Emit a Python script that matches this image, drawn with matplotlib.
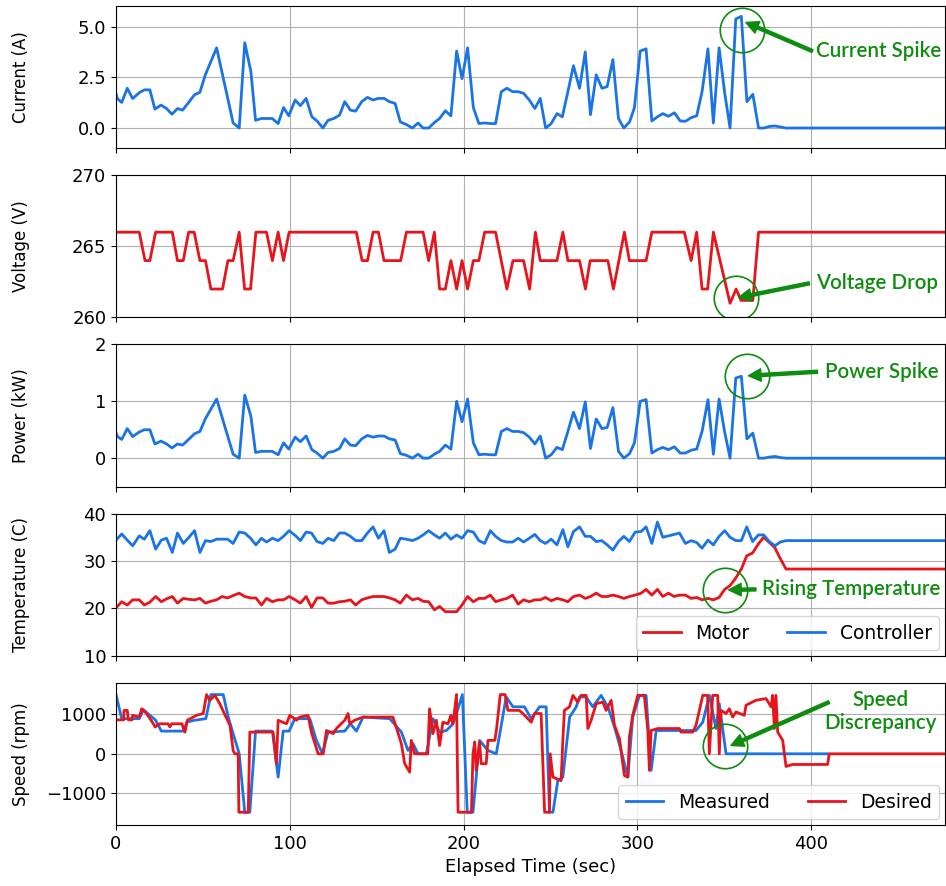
import numpy as np
import matplotlib
matplotlib.use("Agg")
import matplotlib.pyplot as plt

# ---------------------------------------------------------------
# Data
# ---------------------------------------------------------------

# electrical samples (current / power)
elec_t = [0, 0.8, 3.3, 6.5, 9.6, 13.4, 16.3, 19.5, 22.4, 25.9,
          29.1, 32.2, 35.4, 38.3, 41.8, 45.2, 48.3, 51.4, 57.9, 67.4,
          70.9, 74.1, 77.6, 80.3, 83.7, 89.9, 93.3, 96.4, 99.4, 103.1,
          106.1, 109.4, 112.7, 115.7, 119, 122, 125.3, 128.6, 131.6, 134.9,
          137.9, 141.4, 144.7, 147.9, 151, 154.2, 157.3, 160.6, 163.6, 167.1,
          170.5, 173.8, 176.7, 179.9, 183.2, 186.2, 189.5, 192.7, 196, 199.1,
          202.3, 205.6, 208.8, 212.1, 215.4, 218.4, 221.7, 224.9, 228.2, 231.4,
          234.5, 237.8, 241, 244.1, 247.2, 250.4, 253.7, 256.8, 260, 263.2,
          266.7, 270, 273, 276.3, 279.6, 282.6, 285.9, 289.1, 292.2, 295.5,
          298.3, 301.6, 305, 308.3, 311.5, 314.6, 317.8, 321.3, 324.6, 327.6,
          330.9, 334.1, 337.2, 340.6, 343.7, 347, 350.2, 353.3, 356.6, 359.8,
          363, 366.4, 369.7, 372.8, 376, 379.3, 382.3, 385.6, 477]

current = [1.7, 1.45, 1.26, 1.96, 1.45, 1.74, 1.88, 1.88, 0.93, 1.13,
           0.96, 0.68, 0.96, 0.88, 1.26, 1.64, 1.76, 2.62, 3.95, 0.25,
           0.0, 4.2, 2.79, 0.38, 0.47, 0.47, 0.22, 1.01, 0.6, 1.38,
           1.1, 1.46, 0.55, 0.35, 0.0, 0.38, 0.47, 0.63, 1.3, 0.88,
           0.83, 1.3, 1.51, 1.38, 1.46, 1.46, 1.3, 1.21, 0.3, 0.17,
           0.0, 0.25, 0.0, 0.0, 0.27, 0.47, 0.85, 0.6, 3.79, 2.43,
           3.95, 1.01, 0.22, 0.25, 0.22, 0.22, 1.79, 1.96, 1.79, 1.79,
           1.71, 1.38, 0.96, 1.46, 0.0, 0.22, 0.71, 0.55, 1.79, 3.07,
           1.96, 3.75, 0.66, 2.62, 1.96, 2.04, 3.37, 0.47, 0.0, 0.3,
           1.01, 3.79, 3.9, 0.35, 0.55, 0.71, 0.58, 0.75, 0.35, 0.33,
           0.51, 0.6, 1.79, 3.9, 0.25, 3.95, 1.74, 0.0, 5.37, 5.5,
           1.3, 1.66, 0.0, 0.0, 0.08, 0.1, 0.05, 0.0, 0.0]

power = [0.45, 0.38, 0.33, 0.52, 0.38, 0.46, 0.50, 0.50, 0.25, 0.30,
         0.25, 0.18, 0.25, 0.23, 0.33, 0.43, 0.47, 0.69, 1.04, 0.07,
         0.0, 1.11, 0.74, 0.10, 0.12, 0.12, 0.06, 0.27, 0.16, 0.37,
         0.29, 0.39, 0.15, 0.09, 0.0, 0.10, 0.12, 0.17, 0.34, 0.23,
         0.22, 0.34, 0.40, 0.37, 0.39, 0.39, 0.34, 0.32, 0.08, 0.05,
         0.0, 0.07, 0.0, 0.0, 0.07, 0.12, 0.23, 0.16, 1.0, 0.64,
         1.04, 0.27, 0.06, 0.07, 0.06, 0.06, 0.47, 0.52, 0.47, 0.47,
         0.45, 0.37, 0.25, 0.39, 0.0, 0.06, 0.19, 0.15, 0.47, 0.81,
         0.52, 0.99, 0.17, 0.69, 0.52, 0.54, 0.89, 0.12, 0.0, 0.08,
         0.27, 1.0, 1.03, 0.09, 0.15, 0.19, 0.15, 0.20, 0.09, 0.09,
         0.14, 0.16, 0.47, 1.03, 0.07, 1.04, 0.46, 0.0, 1.41, 1.44,
         0.34, 0.44, 0.0, 0.0, 0.02, 0.03, 0.01, 0.0, 0.0]

volt_t = [0, 13.4, 16.7, 19.5, 22.8, 32.4, 35.4, 38.7, 41.8, 45,
          48.3, 51.5, 54.6, 61.3, 64.4, 67.4, 70.9, 74, 77.4, 80.5,
          86.6, 90, 93.3, 96.4, 99.6, 138.3, 141.6, 144.7, 147.9, 151,
          154.2, 163.8, 167.1, 176.7, 179.9, 183.2, 186.2, 189.5, 192.7, 196,
          199.1, 202.3, 205.6, 208.8, 212.1, 218.4, 224.9, 228.4, 234.5, 238,
          241.3, 244.1, 253.7, 257.1, 260, 266.7, 270.1, 272.8, 283, 286.2,
          292.5, 295.4, 305, 308.3, 327, 330.9, 334.1, 337.2, 340.4, 343.7,
          353.3, 356.8, 359.6, 366.4, 369.7, 477]
voltage = [266, 266, 264, 264, 266, 266, 264, 264, 266, 266,
           264, 264, 262, 262, 264, 264, 266, 262, 262, 266,
           266, 264, 266, 264, 266, 266, 264, 264, 266, 266,
           264, 264, 266, 266, 264, 266, 262, 262, 264, 262,
           264, 262, 264, 264, 266, 266, 262, 264, 264, 262,
           266, 264, 264, 266, 264, 264, 262, 264, 264, 262,
           266, 264, 264, 266, 266, 264, 266, 262, 262, 266,
           261, 262, 261.2, 261.2, 266, 266]

temp_t = [0, 3.3, 6.5, 9.6, 13.4, 16.3, 19.5, 22.8, 26.1, 29.1,
          32.4, 35.4, 38.7, 42, 45.2, 48.3, 51.5, 54.6, 57.9, 61.1,
          64.2, 67.4, 70.9, 74.1, 77.4, 80.5, 83.7, 86.6, 90, 93.3,
          96.4, 99.6, 103.1, 106.1, 109.4, 112.5, 115.7, 119, 122, 125.3,
          128.6, 131.6, 134.9, 137.9, 141.4, 144.7, 147.9, 151, 154.2, 157.3,
          160.6, 163.6, 167.1, 170.5, 173.8, 176.7, 179.9, 183.2, 186.2, 189.5,
          192.7, 196, 199.1, 202.3, 205.6, 208.8, 212.1, 215.4, 218.4, 221.7,
          224.9, 228.2, 231.4, 234.5, 237.8, 241, 244.1, 247.1, 250.4, 253.7,
          257.1, 260, 263.2, 266.7, 270, 273, 276.3, 279.5, 282.6, 285.9,
          289.1, 292.2, 295.4, 298.7, 302.1, 305, 308.3, 311.5, 314.6, 317.8,
          321.1, 324.2, 327.6, 330.9, 334.1, 337.2, 340.6, 343.7, 347, 350.2,
          353.3, 356.6, 359.8, 362.9, 366.3, 369.6, 372.6, 375.9, 379.1, 382.2,
          385.5, 477]

temp_controller = [34.4, 35.7, 34.4, 33.2, 35.3, 34.6, 36.4, 32.5, 34.4, 34.8,
                   31.8, 35.9, 33.7, 35.0, 36.4, 31.8, 34.3, 34.1, 34.6, 34.6,
                   34.6, 33.7, 36.1, 35.9, 34.8, 33.4, 34.8, 34.0, 34.8, 34.3,
                   35.2, 36.4, 35.4, 34.3, 36.1, 35.9, 34.1, 33.7, 34.8, 34.3,
                   35.9, 35.9, 35.2, 34.3, 34.3, 35.9, 37.2, 34.8, 36.4, 31.8,
                   32.5, 34.8, 34.6, 34.3, 34.8, 35.5, 36.4, 35.5, 34.8, 35.9,
                   34.6, 35.5, 34.8, 36.4, 36.1, 34.3, 33.7, 36.4, 35.2, 34.3,
                   34.0, 34.0, 34.8, 34.0, 34.8, 35.6, 34.3, 33.7, 34.6, 33.4,
                   36.6, 33.0, 36.2, 37.2, 35.2, 35.2, 34.1, 34.3, 33.4, 32.3,
                   34.1, 35.2, 34.1, 36.1, 36.2, 37.2, 33.7, 38.2, 35.0, 35.3,
                   35.6, 35.9, 33.7, 34.3, 33.9, 32.7, 34.4, 33.4, 35.2, 36.4,
                   35.0, 34.3, 34.3, 37.2, 34.1, 35.5, 35.5, 34.1, 33.2, 34.0,
                   34.3, 34.3]

temp_motor = [20.1, 21.4, 20.7, 21.8, 21.8, 20.7, 21.3, 22.5, 21.4, 22.0,
              22.5, 21.1, 22.1, 21.9, 21.8, 22.1, 21.1, 21.5, 21.8, 22.5,
              22.2, 22.7, 23.2, 22.5, 22.2, 22.2, 20.7, 22.1, 21.4, 21.8,
              21.8, 22.5, 21.8, 21.1, 22.5, 20.2, 22.2, 22.2, 21.1, 21.1,
              21.4, 21.5, 21.8, 20.7, 21.8, 22.2, 22.5, 22.5, 22.5, 22.2,
              21.8, 21.1, 22.8, 21.8, 22.1, 21.5, 21.4, 19.7, 20.4, 19.3,
              19.3, 19.3, 20.7, 22.5, 21.4, 22.1, 22.1, 22.8, 21.4, 21.8,
              22.1, 22.8, 20.9, 21.8, 21.4, 21.8, 21.8, 22.3, 21.6, 22.1,
              21.8, 21.4, 22.5, 22.8, 22.1, 22.5, 23.2, 22.5, 22.5, 22.8,
              22.5, 22.1, 22.5, 22.8, 23.2, 24.0, 22.8, 24.0, 22.5, 23.2,
              22.5, 22.8, 22.8, 22.1, 22.3, 21.8, 22.1, 21.8, 22.3, 24.0,
              24.8, 26.4, 28.3, 31.1, 31.7, 33.6, 35.0, 33.9, 32.8, 30.5,
              28.3, 28.3]

speed_meas_t = [0, 3.3, 13.4, 15.7, 19.5, 22.8, 26.1, 38.7, 41, 45.2,
                51.7, 54.6, 61.7, 64.6, 67.4, 70.9, 74.1, 77, 80.3, 90,
                93.3, 96.2, 99.6, 102.9, 111.5, 115.3, 118.8, 122, 131.6, 134.9,
                138.3, 142.2, 157.5, 164.2, 168, 170.9, 173.8, 178.6, 182.4, 186.2,
                190.1, 193.9, 195.9, 199.3, 202.1, 205.4, 209.2, 214, 218.8, 224.5,
                228.4, 235, 238.9, 243.7, 247.5, 249.4, 251.4, 254.2, 257.1, 261,
                264.8, 266.7, 270.5, 274.3, 279.1, 283, 286.8, 290.6, 294.5, 297.3,
                301.2, 305, 307.9, 310.8, 333.7, 337.6, 341.4, 345.2, 347.1, 351,
                409.4]
speed_meas = [1500, 890, 890, 1120, 975, 850, 575, 575, 805, 850,
              890, 1500, 1500, 930, 510, 0, -1480, -1480, 575, 575,
              -590, 575, 575, 890, 890, 340, 0, 550, 575, 760,
              575, 930, 890, 550, 85, 255, 0, 0, 890, 550,
              590, 760, 1020, 1500, -1480, -1480, 340, 85, 0, 1440,
              1190, 1190, 890, 1190, 1190, -1480, -1480, -680, -590, 930,
              1190, 1440, 1440, 1190, 1480, 1190, 680, 85, -590, 930,
              1480, 1480, -420, 590, 590, 800, 1480, 640, 1270, 0,
              0]

speed_des_t = [0, 4.4, 4.6, 6.5, 7.1, 9.2, 9.6, 13.4, 14.8, 17.6,
               21.5, 22.5, 25, 30, 31, 32, 38, 38.5, 39.7, 41,
               46.4, 50.2, 52.1, 54, 56.9, 59.7, 62.8, 65.6, 67.4, 68.4,
               70.3, 70.7, 76.1, 77, 90.4, 92.3, 93.3, 98.1, 100, 103.8,
               105.7, 110.5, 112.4, 116.3, 119.2, 121.1, 125, 126.8, 131.6, 133.5,
               134.5, 137.3, 142.2, 159.3, 161.2, 164.2, 166.1, 169, 169.9, 171.8,
               179.4, 180.4, 182.4, 184.3, 186.2, 188.1, 191, 192.7, 193.7, 194.6,
               195.9, 196.8, 204.5, 205.4, 206.4, 207.3, 209.2, 210.1, 213, 214,
               218, 219, 221.1, 223.9, 225.5, 232, 234.1, 238.9, 240.8, 244.6,
               246.6, 249.4, 249.8, 251.4, 256.1, 257.1, 258, 260.9, 262.9, 265.7,
               267.6, 270.5, 271.5, 273.4, 276.3, 280.1, 282, 284.9, 286.8, 289.7,
               292.5, 294.5, 295.4, 297.3, 300.2, 304, 306, 306.9, 307.9, 311.7,
               324.2, 325.1, 331.8, 333.7, 337.6, 340.4, 341.4, 343.3, 346.2, 347.1,
               348.1, 351, 352.9, 354.8, 356.7, 361.5, 362.5, 368.2, 374, 376.9,
               377.8, 378.8, 379.7, 380.7, 383.6, 385.5, 389.3, 409.4, 410.4, 477]
speed_des = [860, 860, 1100, 1100, 860, 860, 975, 930, 1140, 1020,
             760, 680, 760, 760, 680, 760, 760, 680, 550, 850,
             975, 1020, 1500, 1355, 1480, 1270, 975, 720, 85, 0,
             0, -1480, -1480, 550, 550, -250, 850, 760, 975, 850,
             930, 975, 550, 0, 0, 590, 510, 640, 850, 1020,
             760, 850, 930, 930, 680, 255, -250, -465, 340, 0,
             0, 1140, 510, 850, 210, 800, 760, 975, 760, 1020,
             1500, -1480, -1480, 0, 300, -420, 300, -250, -250, 340,
             340, 640, 1500, 1500, 1100, 1100, 1020, 800, 1020, 1020,
             -1480, -1480, 0, -590, -680, 340, 1100, 1190, 1480, 1310,
             1480, 1480, 640, 850, 1270, 1310, 1100, 1355, 720, 380,
             -550, -590, 420, 975, 1480, 1480, 590, -420, 590, 640,
             640, 550, 550, 720, 1480, 1480, 0, 1480, 1480, 0,
             1100, 1020, 1140, 930, 1060, 975, 1230, 1355, 1400, 1190,
             1480, 640, 1480, 550, 340, -320, -270, -270, 0, 0]

# annotations: panel, label, circle centre, arrow head, arrow tail, text position, alignment
notes = [
    (0, "Current Spike", (360.3, 4.83), (362.4, 5.2), (400.7, 3.79), (403.0, 3.79), "left"),
    (1, "Voltage Drop", (356.7, 261.35), (358.2, 261.4), (398.9, 262.4), (402.5, 262.45), "left"),
    (2, "Power Spike", (362.8, 1.45), (363.9, 1.45), (403.6, 1.52), (408.0, 1.51), "left"),
    (3, "Rising Temperature", (350.6, 23.8), (352.5, 23.9), (368.2, 24.0), (371.5, 24.0), "left"),
    (4, "Speed\nDiscrepancy", (350.6, 185), (353.8, 210), (410.3, 1310), (440.0, 1070), "center"),
]

# ---------------------------------------------------------------
# Plotting
# ---------------------------------------------------------------
blue = '#1a74e6'
red = '#e8141c'
green = '#0e8c0e'

plt.rcParams['font.size'] = 13

fig, axes = plt.subplots(5, 1, sharex=True, figsize=(9.46, 8.86), dpi=100)
fig.subplots_adjust(left=0.1226, right=0.999, top=0.993, bottom=0.069, hspace=0.19)

axes[0].plot(elec_t, current, color=blue, lw=2)
axes[0].set_ylim(-1, 6)
axes[0].set_yticks([0, 2.5, 5.0])
axes[0].set_yticklabels(['0.0', '2.5', '5.0'])
axes[0].set_ylabel('Current (A)', fontsize=12)

axes[1].plot(volt_t, voltage, color=red, lw=2)
axes[1].set_ylim(260, 270)
axes[1].set_yticks([260, 265, 270])
axes[1].set_ylabel('Voltage (V)', fontsize=12)

axes[2].plot(elec_t, power, color=blue, lw=2)
axes[2].set_ylim(-0.5, 2)
axes[2].set_yticks([0, 1, 2])
axes[2].set_ylabel('Power (kW)', fontsize=12)

axes[3].plot(temp_t, temp_motor, color=red, lw=2, label='Motor')
axes[3].plot(temp_t, temp_controller, color=blue, lw=2, label='Controller')
axes[3].set_ylim(10, 40)
axes[3].set_yticks([10, 20, 30, 40])
axes[3].set_ylabel('Temperature (C)', fontsize=12)
axes[3].legend(loc='lower right', ncol=2, borderaxespad=0.3, fontsize=13.5)

axes[4].plot(speed_meas_t, speed_meas, color=blue, lw=2, label='Measured')
axes[4].plot(speed_des_t, speed_des, color=red, lw=2, label='Desired')
axes[4].set_ylim(-1800, 1800)
axes[4].set_yticks([-1000, 0, 1000])
axes[4].set_ylabel('Speed (rpm)', fontsize=12)
axes[4].legend(loc='lower right', ncol=2, borderaxespad=0.3, fontsize=13.5)

for ax in axes:
    ax.grid(True)
    ax.set_xlim(0, 477)
    ax.set_xticks([0, 100, 200, 300, 400])
    ax.yaxis.set_label_coords(-0.104, 0.5)
axes[4].set_xlabel('Elapsed Time (sec)')

for idx, label, circ, head, tail, txt, ha in notes:
    ax = axes[idx]
    ax.plot([circ[0]], [circ[1]], 'o', ms=32, mfc='none', mec=green, mew=1.2)
    ax.annotate('', xy=head, xytext=tail,
                arrowprops=dict(facecolor=green, edgecolor=green, width=2.2,
                                headwidth=9, headlength=9, shrink=0))
    ax.text(txt[0], txt[1], label, ha=ha, va='center', color=green,
            fontsize=14.8, fontweight='semibold', family=['Lato', 'DejaVu Sans'])

plt.savefig('out.png', dpi=100)
